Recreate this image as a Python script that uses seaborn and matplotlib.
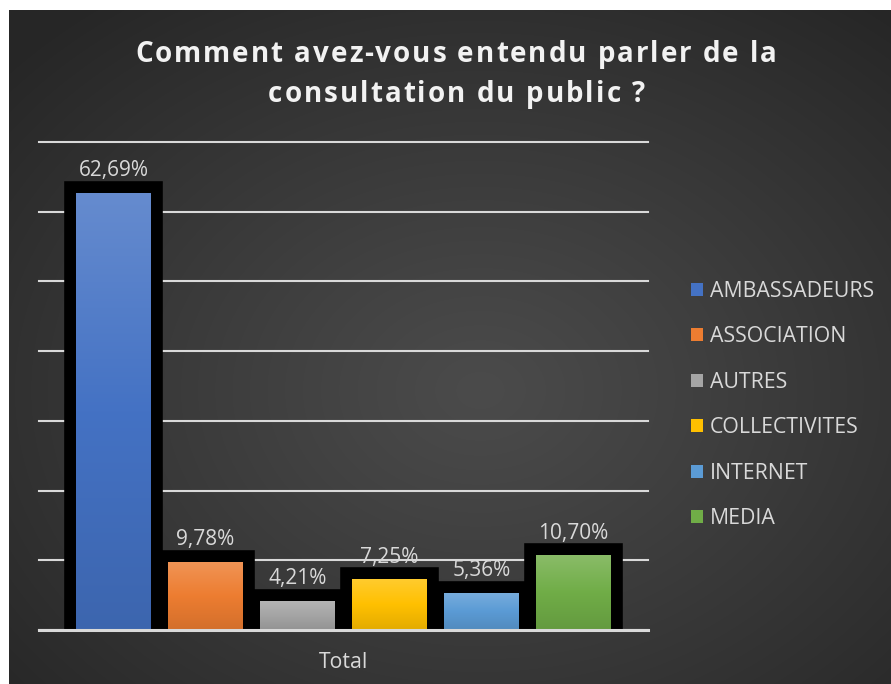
import numpy as np
import pandas as pd
import matplotlib
matplotlib.use("Agg")
import matplotlib.pyplot as plt
import seaborn as sns
from matplotlib.colors import to_rgb
from matplotlib.patches import Patch, Rectangle

# ---------------- data ----------------
categories = ["AMBASSADEURS", "ASSOCIATION", "AUTRES", "COLLECTIVITES", "INTERNET", "MEDIA"]
values = [62.69, 9.78, 4.21, 7.25, 5.36, 10.70]
group = ["Total"] * len(categories)
value_labels = ["62,69%", "9,78%", "4,21%", "7,25%", "5,36%", "10,70%"]
colors = ["#4472c4", "#ed7d31", "#a5a5a5", "#ffc000", "#5b9bd5", "#70ad47"]
title_lines = ["Comment avez-vous entendu parler de la", "consultation du public ?"]
y_ticks = [0, 10, 20, 30, 40, 50, 60, 70]

df = pd.DataFrame({"group": group, "category": categories, "value": values})

plt.rcParams["font.family"] = ["Open Sans", "DejaVu Sans"]

W, H = 891, 684
fig = plt.figure(figsize=(W / 100, H / 100), dpi=100)
fig.patch.set_facecolor("white")

# ---------------- background (radial gradient) ----------------
bg = fig.add_axes([0, 0, 1, 1], zorder=0)
yy, xx = np.mgrid[0:H, 0:W]
cx, cy = 480, 390
r = np.sqrt(((xx - cx) / W) ** 2 + ((yy - cy) / H) ** 2)
r = np.clip(r / 0.72, 0, 1)
inner = np.array(to_rgb("#4b4b4b"))
outer = np.array(to_rgb("#262626"))
img = inner + (outer - inner) * (r ** 1.1)[..., None]
img[:10, :, :] = 1.0
img[:, :9, :] = 1.0
bg.imshow(img, aspect="auto", interpolation="bilinear")
bg.set_axis_off()

# ---------------- main axes ----------------
ax = fig.add_axes([39 / W, 1 - 630 / H, 609 / W, 488 / H], zorder=1)
ax.patch.set_alpha(0)

sns.barplot(data=df, x="group", y="value", hue="category", hue_order=categories,
            palette=colors, saturation=1, width=0.906, gap=0.185, legend=False,
            ax=ax)

patches = sorted([p for p in ax.patches if p.get_height() > 0], key=lambda p: p.get_x())


def lighten(c, f):
    c = np.array(to_rgb(c))
    return c + (1 - c) * f


def darken(c, f):
    return np.array(to_rgb(c)) * (1 - f)


for p, col, lab in zip(patches, colors, value_labels):
    x0, y0, w, h = p.get_x(), p.get_y(), p.get_width(), p.get_height()
    blk = Rectangle((x0, y0), w, h, facecolor="black", edgecolor="black",
                    linewidth=17, joinstyle="miter", zorder=2)
    ax.add_patch(blk)
    p.set_zorder(3)
    p.set_edgecolor("none")
    p.set_linewidth(0)
    top = lighten(col, 0.18)
    mid = np.array(to_rgb(col))
    bot = darken(col, 0.11)
    t = np.linspace(0, 1, 200)[:, None]
    grad = np.where(t > 0.5, mid + (top - mid) * ((t - 0.5) / 0.5),
                    bot + (mid - bot) * (t / 0.5))
    grad = grad[:, None, :]
    im = ax.imshow(grad, extent=(x0, x0 + w, y0, y0 + h), origin="lower",
                   aspect="auto", zorder=3.5, interpolation="bilinear")
    im.set_clip_path(p)
    ax.annotate(lab, (x0 + w / 2, y0 + h), xytext=(0, 12),
                textcoords="offset points", ha="center", va="baseline",
                color="#d9d9d9", fontsize=15, zorder=6)

ax.set_xlim(-0.5, 0.5)
ax.set_ylim(0, 70)
ax.set_yticks(y_ticks)
ax.set_axisbelow(True)
ax.yaxis.grid(True, color="#d9d9d9", linewidth=1.5)
ax.xaxis.grid(False)
for gl in ax.get_ygridlines():
    gl.set_clip_on(False)
ax.tick_params(left=False, bottom=False, labelleft=False, labelsize=15.3,
               labelcolor="#d9d9d9", pad=12.5)
ax.set_xlabel("")
ax.set_ylabel("")
for s in ["left", "right", "top"]:
    ax.spines[s].set_visible(False)
ax.spines["bottom"].set_color("#d9d9d9")
ax.spines["bottom"].set_linewidth(2.2)
ax.spines["bottom"].set_zorder(10)

# ---------------- title (letter-spaced) ----------------
renderer = fig.canvas.get_renderer()
title_kw = dict(fontsize=20, fontweight="bold", color="#f2f2f2")


def text_width(s):
    t = fig.text(0, 0, s + "|", **title_kw)
    w1 = t.get_window_extent(renderer).width
    t.remove()
    t = fig.text(0, 0, "|", **title_kw)
    w2 = t.get_window_extent(renderer).width
    t.remove()
    return w1 - w2


def spaced_text(s, xc_px, baseline_px, target_w):
    base_w = text_width(s)
    sp = (target_w - base_w) / max(len(s) - 1, 1)
    x_start = xc_px - target_w / 2
    for i, ch in enumerate(s):
        if ch == " ":
            continue
        xi = x_start + text_width(s[:i]) + i * sp
        fig.text(xi / W, 1 - baseline_px / H, ch, ha="left", va="baseline",
                 **title_kw)


spaced_text(title_lines[0], 456, 62, 642)
spaced_text(title_lines[1], 456.5, 102, 377)

# ---------------- legend ----------------
handles = [Patch(facecolor=c, edgecolor="none") for c in colors]
fig.legend(handles, categories, loc="upper left",
           bbox_to_anchor=(691 / W, 1 - 281 / H), frameon=False, fontsize=15.3,
           labelcolor="#d9d9d9", handlelength=0.57, handleheight=0.57,
           handletextpad=0.33, labelspacing=1.15, borderpad=0, borderaxespad=0)

fig.savefig("out.png", dpi=100)
